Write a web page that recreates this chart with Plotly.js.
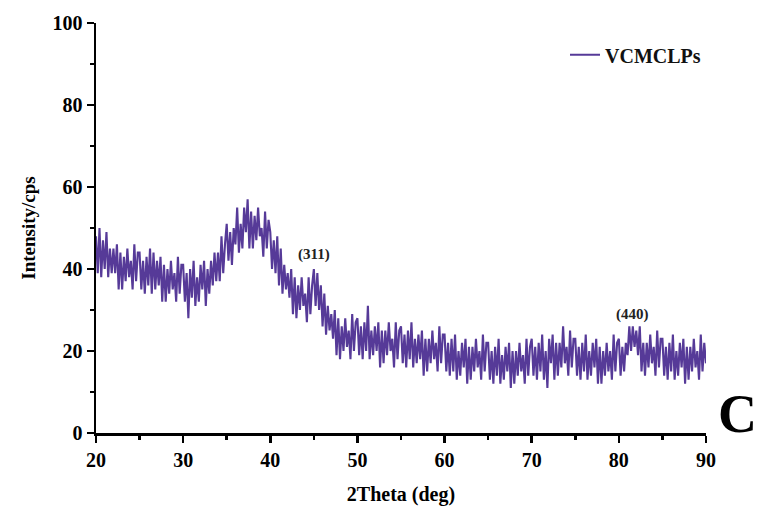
<!DOCTYPE html>
<html>
<head>
<meta charset="utf-8">
<script src="https://cdn.plot.ly/plotly-3.0.1.min.js"></script>
<style>html,body{margin:0;padding:0;background:#fff;}#chart{width:761px;height:511px;}</style>
</head>
<body>
<div id="chart"></div>
<script>
// 2Theta grid: start 20 deg, step 0.2 deg
var thetaStart = 20;
var thetaStep = 0.2;
// Intensity (cps)
var intensity = [
48,39,50,38,47, 40,49,38,45,39, 45,39,46,35,44, 35,43,37,45,38,
42,35,46,37,44, 44,35,42,34,43, 36,45,34,44,35, 42,36,43,32,41,
32,40,34,42,35, 39,32,43,34,41, 41,32,39,28,40, 33,42,31,38,32,
41,35,42,31,40, 34,42,36,44,37, 44,37,48,39,46, 51,42,49,41,50,
46,55,44,51,45, 55,49,57,45,54, 45,53,47,55,48, 50,43,54,45,52,
49,40,47,39,48, 36,45,34,41,35, 39,33,40,29,38, 28,36,30,38,31,
34,27,38,29,36, 40,31,39,30,36, 26,34,24,31,25, 29,23,30,19,28,
18,26,20,28,21, 25,18,29,20,27, 28,19,26,18,27, 20,31,18,25,19,
26,20,27,16,25, 17,25,19,27,20, 23,16,27,18,25, 26,17,24,16,25,
18,27,16,23,17, 24,18,25,14,23, 15,23,17,25,18, 22,15,26,17,24,
24,15,22,14,23, 15,24,13,20,14, 22,16,23,12,21, 13,21,15,23,16,
20,13,24,15,22, 22,13,20,12,21, 14,23,12,19,13, 21,15,22,11,20,
12,20,14,22,15, 19,12,23,14,21, 23,14,21,13,22, 15,24,13,20,11,
23,17,24,13,22, 14,22,16,26,17, 21,14,25,16,23, 23,14,21,13,22,
15,24,13,20,14, 22,16,23,12,21, 12,20,14,22,15, 20,13,24,15,22,
23,14,21,15,22, 19,26,20,26,21, 25,19,26,15,22, 14,22,16,24,17,
21,14,25,16,23, 23,14,21,13,22, 15,24,13,20,14, 22,16,23,12,21,
13,21,15,23,16, 20,13,24,15,22, 17
];
var seriesName = 'VCMCLPs';
var peakLabels = ['(311)', '(440)'];
var peakX = [45, 81.6];
var peakY = [43.5, 28.8];

var lineColor = '#563a98';
var serif = 'Liberation Serif, Times New Roman, serif';

var trace = {
  type: 'scatter',
  mode: 'lines',
  y: intensity,
  x0: thetaStart,
  dx: thetaStep,
  name: seriesName,
  line: {color: lineColor, width: 2.1}
};

var annotations = peakLabels.map(function(t, i){
  return {x: peakX[i], y: peakY[i], xref: 'x', yref: 'y', text: '<b>' + t + '</b>',
    showarrow: false, font: {family: serif, size: 15, color: '#222'}};
});
annotations.push({x: (716 - 96) / 610, y: (433 - 446) / 410, xref: 'paper', yref: 'paper',
  xanchor: 'left', yanchor: 'bottom',
  text: '<b>C</b>', showarrow: false, font: {family: serif, size: 54, color: '#000'}});

var axisCommon = {
  showgrid: false, zeroline: false, showline: true, linecolor: '#000', linewidth: 2.5,
  ticks: 'outside', ticklen: 7, tickwidth: 2.5, tickcolor: '#000',
  tickfont: {family: serif, size: 20, color: '#000', weight: 'bold'}
};

var layout = {
  width: 761, height: 511,
  margin: {l: 96, r: 55, t: 23, b: 78},
  paper_bgcolor: '#fff', plot_bgcolor: '#fff',
  showlegend: true,
  legend: {x: 1.0, xanchor: 'right', y: 0.97, yanchor: 'top', bgcolor: 'rgba(0,0,0,0)',
    font: {family: serif, size: 20, color: '#111', weight: 'bold'}},
  xaxis: Object.assign({}, axisCommon, {
    range: [20, 90], dtick: 10, tick0: 20,
    minor: {dtick: 5, ticks: 'outside', ticklen: 4, tickwidth: 2.5, tickcolor: '#000'},
    title: {text: '<b>2Theta (deg)</b>', font: {family: serif, size: 20, color: '#000'}, standoff: 18}
  }),
  yaxis: Object.assign({}, axisCommon, {
    range: [0, 100], dtick: 20,
    minor: {dtick: 10, ticks: 'outside', ticklen: 4, tickwidth: 2.5, tickcolor: '#000'},
    title: {text: '<b>Intensity/cps</b>', font: {family: serif, size: 19, color: '#000'}, standoff: 12}
  }),
  annotations: annotations
};

Plotly.newPlot('chart', [trace], layout, {displayModeBar: false, staticPlot: true});
</script>
</body>
</html>
